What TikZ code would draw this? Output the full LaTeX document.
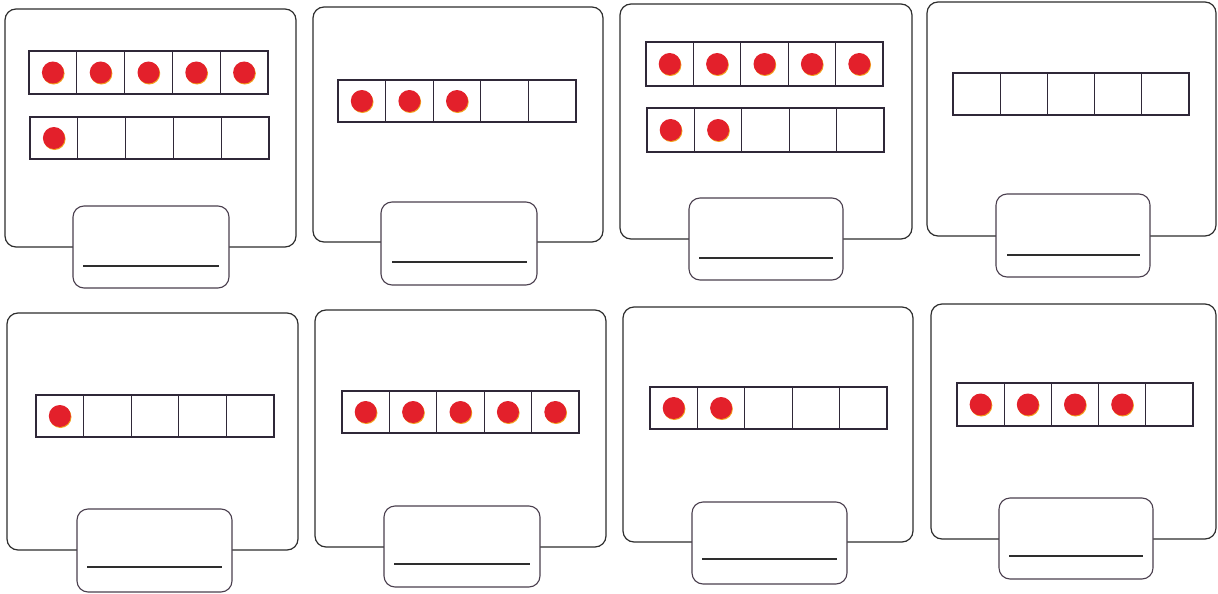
\documentclass[tikz,border=0pt]{standalone}
\usepackage{tikz}
\definecolor{cardline}{HTML}{2E2E2E}
\definecolor{gridline}{HTML}{2F2838}
\definecolor{boxline}{HTML}{4A3F4E}
\definecolor{dotred}{HTML}{E3202B}
\definecolor{dotshade}{HTML}{F2A21E}
\tikzset{
  cardframe/.style={draw=cardline,line width=1.2pt,rounded corners=11pt,fill=white},
  answerbox/.style={draw=boxline,line width=1.1pt,rounded corners=11pt,fill=white},
  writeline/.style={draw=cardline,line width=1.2pt},
  cellline/.style={draw=gridline,line width=1.1pt},
  reddot/.style={fill=dotred},
  shadedot/.style={fill=dotshade},
}
% card: x1 y1 x2 y2
\newcommand\mycard[4]{\path[cardframe] (#1,#2) rectangle (#3,#4);}
% answer box: x1 y1 x2 y2, line x1 x2 y
\newcommand\myanswer[7]{\path[answerbox] (#1,#2) rectangle (#3,#4);
  \draw[writeline] (#5,#7) -- (#6,#7);}
% five-frame row: x1 y1 x2 y2 ndots
\newcommand\myrow[5]{%
  \pgfmathsetmacro\cw{(#3-#1)/5}%
  \ifnum#5>0
    \foreach \i in {1,...,#5}{%
      \fill[shadedot] ({#1+(\i-0.5)*\cw+0.7},{(#2+#4)/2+1.0}) circle (11);
      \fill[reddot] ({#1+(\i-0.5)*\cw},{(#2+#4)/2}) circle (11);
    }%
  \fi
  \draw[cellline] (#1,#2) rectangle (#3,#4);
  \foreach \i in {1,...,4}{\draw[cellline] ({#1+\i*\cw},#2) -- ({#1+\i*\cw},#4);}%
}
\begin{document}
\begin{tikzpicture}[x=1pt,y=-1pt]
\useasboundingbox[fill=white] (0,0) rectangle (1218,594);
% ---- top row ----
\mycard{5}{9}{296}{247}
\myrow{29}{51}{268}{94}{5}
\myrow{30}{117}{269}{159}{1}
\myanswer{73}{206}{229}{288}{83}{219}{266}

\mycard{313}{7}{603}{242}
\myrow{338}{80}{576}{122}{3}
\myanswer{381}{202}{537}{285}{392}{527}{262}

\mycard{620}{4}{912}{239}
\myrow{646}{42}{883}{86}{5}
\myrow{647}{108}{884}{152}{2}
\myanswer{689}{198}{843}{280}{699}{833}{258}

\mycard{927}{2}{1216}{236}
\myrow{953}{73}{1189}{115}{0}
\myanswer{996}{194}{1150}{277}{1007}{1140}{255}

% ---- bottom row ----
\mycard{7}{313}{298}{550}
\myrow{36}{395}{274}{437}{1}
\myanswer{77}{509}{232}{592}{87}{222}{567}

\mycard{315}{310}{606}{547}
\myrow{342}{391}{579}{433}{5}
\myanswer{384}{506}{540}{587}{394}{530}{564}

\mycard{623}{307}{913}{542}
\myrow{650}{387}{887}{429}{2}
\myanswer{692}{502}{847}{584}{702}{837}{559}

\mycard{931}{304}{1216}{539}
\myrow{957}{383}{1193}{426}{4}
\myanswer{999}{498}{1153}{579}{1009}{1143}{556}
\end{tikzpicture}
\end{document}
